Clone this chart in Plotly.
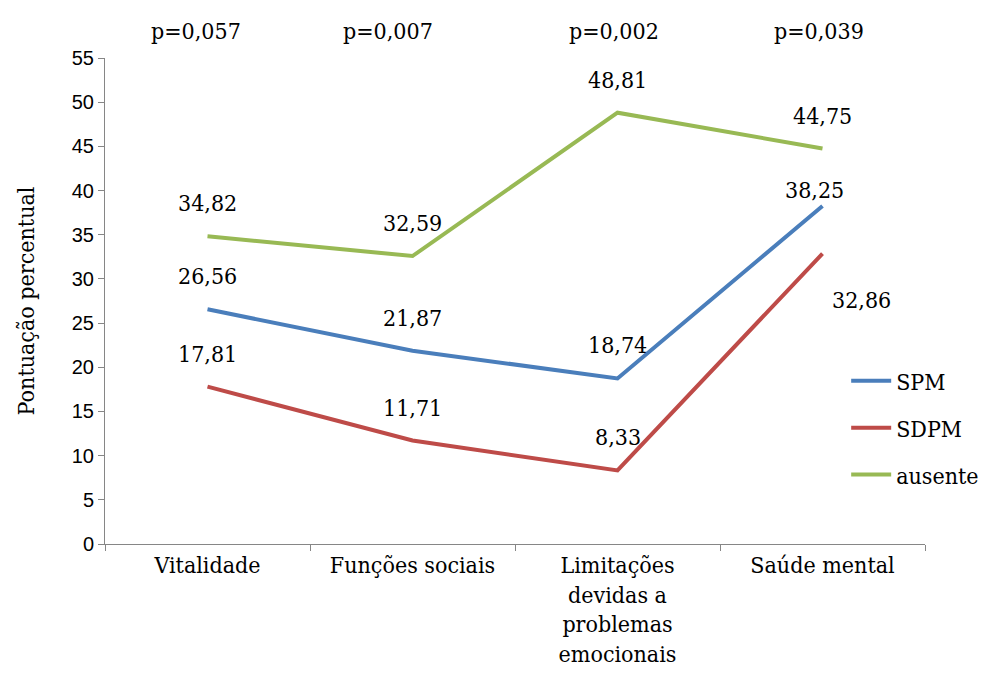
import plotly.graph_objects as go

categories = ["Vitalidade", "Funções sociais",
              "Limitações<br>devidas a<br>problemas<br>emocionais", "Saúde mental"]
spm = [26.56, 21.87, 18.74, 38.25]
sdpm = [17.81, 11.71, 8.33, 32.86]
ausente = [34.82, 32.59, 48.81, 44.75]
p_values = ["p=0,057", "p=0,007", "p=0,002", "p=0,039"]

series = [
    ("SPM", spm, "#4A7EBB"),
    ("SDPM", sdpm, "#BE4B48"),
    ("ausente", ausente, "#98B954"),
]

SERIF = "DejaVu Serif Condensed"
SANS = "Liberation Sans"
FS = 23

fig = go.Figure()
for name, vals, color in series:
    fig.add_trace(go.Scatter(
        x=categories, y=vals, name=name, mode="lines",
        line=dict(color=color, width=4),
        legendgroup=name,
    ))

# value labels above each point; the two crowded ones at the last category are nudged
offsets = {
    ("SPM", 3): (-8, 16),
    ("SDPM", 3): (39, -46),
}
for name, vals, color in series:
    for j, v in enumerate(vals):
        dx, dy = offsets.get((name, j), (0, 33))
        fig.add_annotation(
            x=categories[j], y=v, text=f"{v:.2f}".replace(".", ","),
            showarrow=False, xshift=dx, yshift=dy,
            font=dict(family=SERIF, size=FS, color="#000"),
        )

# significance labels along the top
p_shift = [-12, -25, -4, -4]
for j, p in enumerate(p_values):
    fig.add_annotation(
        x=categories[j], y=1, yref="paper", yanchor="bottom",
        text=p, showarrow=False, xshift=p_shift[j], yshift=12,
        font=dict(family=SERIF, size=FS, color="#000"),
    )

fig.update_layout(
    width=992, height=677,
    margin=dict(l=105, r=67, t=58, b=133, autoexpand=False),
    paper_bgcolor="white", plot_bgcolor="white",
    showlegend=True,
    legend=dict(
        xref="container", yref="container",
        x=0.853, y=0.368, xanchor="left", yanchor="middle",
        font=dict(family=SERIF, size=FS, color="#000"),
        tracegroupgap=14, itemwidth=40,
        bgcolor="rgba(0,0,0,0)",
    ),
    xaxis=dict(
        type="category", tickson="boundaries", range=[-0.5, 3.5],
        automargin=False,
        showline=True, linecolor="#868686", linewidth=1,
        ticks="outside", ticklen=6, tickcolor="#868686",
        tickfont=dict(family=SERIF, size=FS, color="#000"),
        showgrid=False, zeroline=False,
    ),
    yaxis=dict(
        range=[0, 55], dtick=5, tick0=0,
        automargin=False,
        showline=True, linecolor="#868686", linewidth=1,
        ticks="outside", ticklen=6, tickcolor="#868686",
        tickfont=dict(family=SANS, size=20, color="#000"),
        showgrid=False, zeroline=False,
        title=dict(text="Pontuação percentual",
                   font=dict(family=SERIF, size=FS, color="#000"), standoff=30),
    ),
)

fig.write_html("out.html")
